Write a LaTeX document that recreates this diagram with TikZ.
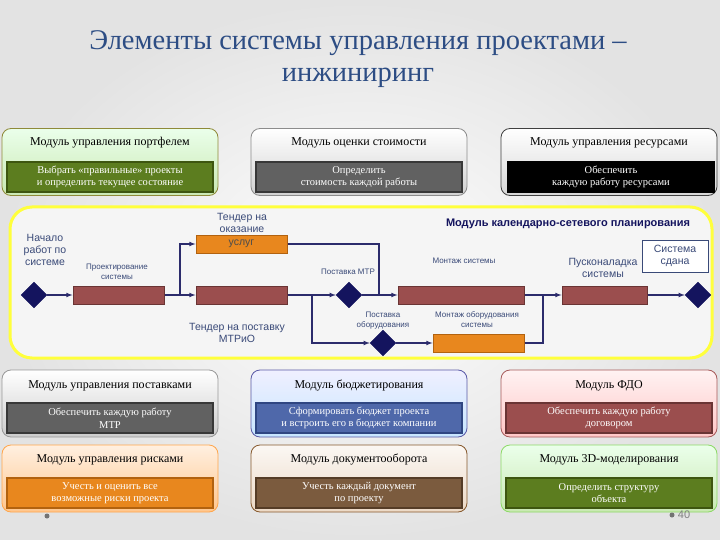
\documentclass[tikz,border=0pt]{standalone}
\usepackage{fontspec}
\setmainfont{Liberation Serif}
\newfontfamily\netfont{Liberation Sans}
\usepackage{tikz}
\usepackage{xcolor}
\tikzset{>=latex}
\usetikzlibrary{shapes.geometric}

\definecolor{titleblue}{HTML}{2D4D84}
\definecolor{navy}{HTML}{14145E}
\definecolor{lineblue}{HTML}{2C2C6C}
\definecolor{labelblue}{HTML}{3A4A78}
\definecolor{taskred}{HTML}{9B4E4E}
\definecolor{taskredD}{HTML}{6A3434}
\definecolor{taskorg}{HTML}{E8871E}
\definecolor{taskorgD}{HTML}{B2620F}
\definecolor{yel}{HTML}{FFFF3C}
\definecolor{oliveI}{HTML}{5C7D1F}
\definecolor{oliveD}{HTML}{3E5610}
\definecolor{blueI}{HTML}{4F68AA}
\definecolor{blueD}{HTML}{2F4682}
\definecolor{brownI}{HTML}{7B5B3E}
\definecolor{brownD}{HTML}{553C26}

\tikzset{
  modbox/.style n args={3}{rectangle, rounded corners=9pt, top color=#1,
    bottom color=#2, draw=#3, line width=0.8pt, minimum width=216pt,
    minimum height=67pt},
  modtitle/.style={font=\fontsize{12}{14}\selectfont, text=black,
    text height=8.5pt, text depth=2.5pt},
  inbox/.style 2 args={rectangle, fill=#1, draw=#2, line width=1.2pt,
    minimum width=206pt, minimum height=30pt, inner sep=0pt, text=white,
    align=center, font=\fontsize{10.5}{12.5}\selectfont},
  milestone/.style={diamond, fill=navy, draw=navy, minimum width=26pt,
    minimum height=26pt, inner sep=0pt},
  task/.style 2 args={rectangle, fill=#1, draw=#2, line width=1pt,
    minimum height=18pt, inner sep=0pt},
  flow/.style={->, draw=lineblue, line width=1.1pt},
  link/.style={draw=lineblue, line width=1.1pt},
  biglbl/.style={font=\netfont\fontsize{10.5}{12}\selectfont, text=labelblue,
    align=center},
  smalllbl/.style={font=\netfont\fontsize{8}{10}\selectfont, text=labelblue,
    align=center}
}

\begin{document}
\begin{tikzpicture}[x=1pt, y=-1pt]
  \useasboundingbox (0,0) rectangle (720,540);
  \shade[inner color=white, outer color=black!11] (0,0) rectangle (720,540);

  \node[font=\fontsize{28.5}{32}\selectfont, text=titleblue, align=center]
    (title) at (358,59) {Элементы системы управления проектами –\\инжиниринг};

  % top row
  \node[modbox={green!8!white}{green!40!olive!30}{olive!60!gray}] (portf) at (110,162) {};
  \node[modtitle] (portft) at (110,143) {Модуль управления портфелем};
  \node[inbox={oliveI}{oliveD}] (portfd) at (110,177)
    {Выбрать «правильные» проекты\\и определить текущее состояние};

  \node[modbox={white}{black!18}{black!45}] (cost) at (359,162) {};
  \node[modtitle] (costt) at (359,143) {Модуль оценки стоимости};
  \node[inbox={black!62}{black!78}] (costd) at (359,177)
    {Определить\\стоимость каждой работы};

  \node[modbox={white}{black!16}{black!75}] (res) at (609,162) {};
  \node[modtitle] (rest) at (609,143) {Модуль управления ресурсами};
  \node[inbox={black}{black}] (resd) at (611,177)
    {Обеспечить\\каждую работу ресурсами};

  % network
  \node[rectangle, rounded corners=22pt, draw=yel, line width=3pt,
    fill=white!96!black, minimum width=702pt, minimum height=151pt]
    (net) at (361,282.5) {};
  \node[font=\netfont\bfseries\fontsize{11}{13}\selectfont, text=navy]
    (nett) at (568,224) {Модуль календарно-сетевого планирования};

  \node[milestone] (start) at (34,295) {};
  \node[task={taskred}{taskredD}, minimum width=91pt] (design) at (118.5,295) {};
  \node[task={taskorg}{taskorgD}, minimum width=91pt, text=black!70,
    font=\netfont\fontsize{10.5}{12}\selectfont] (tserv) at (241.5,244) {услуг};
  \node[task={taskred}{taskredD}, minimum width=91pt] (tsup) at (241.5,295) {};
  \node[milestone] (mtr) at (349,295) {};
  \node[milestone] (equip) at (383,343) {};
  \node[task={taskred}{taskredD}, minimum width=126pt] (mount) at (461,295) {};
  \node[task={taskorg}{taskorgD}, minimum width=91pt] (eqmount) at (478.5,343) {};
  \node[task={taskred}{taskredD}, minimum width=85pt] (comm) at (604.5,295) {};
  \node[milestone] (finish) at (698,295) {};
  \node[rectangle, draw=labelblue, fill=white, line width=0.9pt,
    minimum width=66pt, minimum height=32pt, inner sep=0pt, biglbl]
    (done) at (675,256) {Система\\сдана};

  \node[biglbl] (startl) at (45,250) {Начало\\работ по\\системе};
  \node[smalllbl] (designl) at (117,272) {Проектирование\\системы};
  \node[biglbl] (tservl) at (242,223) {Тендер на\\оказание};
  \node[biglbl] (tsupl) at (237,333) {Тендер на поставку\\МТРиО};
  \node[smalllbl] (mtrl) at (348,272) {Поставка МТР};
  \node[smalllbl] (equipl) at (383,321) {Поставка\\оборудования};
  \node[smalllbl] (mountl) at (464,261) {Монтаж системы};
  \node[smalllbl] (eqmountl) at (477,320) {Монтаж оборудования\\системы};
  \node[biglbl] (comml) at (603,268) {Пусконаладка\\системы};

  \coordinate (j1) at (180,295);
  \coordinate (j2) at (312,295);
  \coordinate (j3) at (379,295);
  \coordinate (j4) at (543,295);
  \draw[flow] (start) -- (design);
  \draw[link] (design) -- (j1);
  \draw[flow] (j1) |- (tserv);
  \draw[flow] (j1) -- (tsup);
  \draw[flow] (tsup) -- (mtr);
  \draw[flow] (j2) |- (equip);
  \draw[link] (tserv) -| (j3);
  \draw[flow] (mtr) -- (mount);
  \draw[flow] (equip) -- (eqmount);
  \draw[link] (eqmount) -| (j4);
  \draw[flow] (mount) -- (comm);
  \draw[flow] (comm) -- (finish);

  % bottom rows
  \node[modbox={white}{black!20}{black!40}] (supp) at (110,403.5) {};
  \node[modtitle] (suppt) at (110,385) {Модуль управления поставками};
  \node[inbox={black!62}{black!78}] (suppd) at (110,418)
    {Обеспечить каждую работу\\МТР};

  \node[modbox={blue!6!white}{blue!45!cyan!22}{blue!30!gray}] (budg) at (359,403.5) {};
  \node[modtitle] (budgt) at (359,385) {Модуль бюджетирования};
  \node[inbox={blueI}{blueD}] (budgd) at (359,418)
    {Сформировать бюджет проекта\\и встроить его в бюджет компании};

  \node[modbox={red!5!white}{red!22}{red!30!gray}] (fdo) at (609,403.5) {};
  \node[modtitle] (fdot) at (609,385) {Модуль ФДО};
  \node[inbox={taskred}{taskredD}] (fdod) at (609,418)
    {Обеспечить каждую работу\\договором};

  \node[modbox={orange!12!white}{orange!45}{orange!70}] (risk) at (110,478.5) {};
  \node[modtitle] (riskt) at (110,459) {Модуль управления рисками};
  \node[inbox={taskorg}{taskorgD}] (riskd) at (110,493)
    {Учесть и оценить все\\возможные риски проекта};

  \node[modbox={brown!6!white}{brown!30}{brown!70!black}] (docs) at (359,478.5) {};
  \node[modtitle] (docst) at (359,459) {Модуль документооборота};
  \node[inbox={brownI}{brownD}] (docsd) at (359,493)
    {Учесть каждый документ\\по проекту};

  \node[modbox={green!8!white}{green!40!olive!30}{green!50!olive!60}] (model) at (609,478.5) {};
  \node[modtitle] (modelt) at (609,459) {Модуль 3D-моделирования};
  \node[inbox={oliveI}{oliveD}] (modeld) at (609,493)
    {Определить структуру\\объекта};

  \node[circle, fill=black!55, inner sep=0pt, minimum size=5pt] (dotl) at (47,516) {};
  \node[circle, fill=black!55, inner sep=0pt, minimum size=5pt] (dotr) at (672,515) {};
  \node[font=\netfont\fontsize{11}{13}\selectfont, text=black!50] (pagenum)
    at (684,515) {40};
\end{tikzpicture}
\end{document}
